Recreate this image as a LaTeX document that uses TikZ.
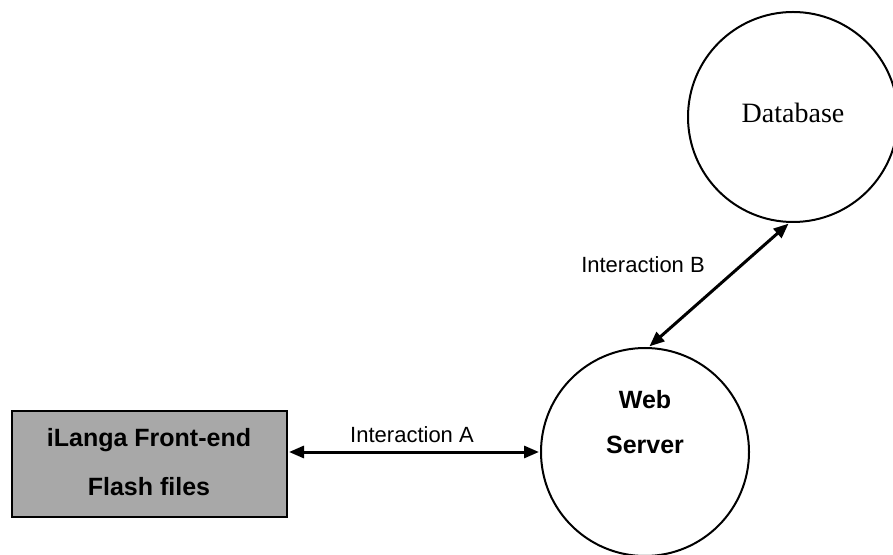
\documentclass[tikz,border=0pt]{standalone}
\usepackage{fontspec}
\setmainfont{Liberation Serif}
\setsansfont{Liberation Sans}
\usetikzlibrary{arrows.meta}
\definecolor{boxgray}{HTML}{A8A8A8}
\tikzset{
  circ/.style={draw=black, line width=2pt, circle, inner sep=0pt},
  conn/.style={line width=3pt, {Triangle[length=15pt,width=12pt]}-{Triangle[length=15pt,width=12pt]}, shorten <=1pt, shorten >=1pt},
  lbl/.style={font=\sffamily\fontsize{22}{26}\selectfont, anchor=base, inner sep=0pt},
  bold/.style={font=\sffamily\bfseries\fontsize{25}{30}\selectfont, anchor=base, inner sep=0pt},
}
\begin{document}
\begin{tikzpicture}[x=1pt,y=1pt]
\useasboundingbox (0,0) rectangle (893,554);
% front-end box
\node[draw=black, line width=2pt, fill=boxgray, minimum width=275pt, minimum height=106pt, inner sep=0pt] (fe) at (149.5,90) {};
\node[bold] (fe1) at (149,108) {iLanga Front-end};
\node[bold] (fe2) at (149,59) {Flash files};
% web server
\node[circ, minimum size=208pt] (ws) at (645,102) {};
\node[bold] (ws1) at (645,145) {Web};
\node[bold] (ws2) at (645,101) {Server};
% database
\node[circ, minimum size=210pt] (db) at (793,437) {};
\node[font=\fontsize{28}{32}\selectfont, anchor=base, inner sep=0pt] (dbt) at (793,431) {Database};
% connectors
\draw[conn] (fe.east |- ws.west) -- (ws.west);
\draw[conn] (ws.88) -- (db.-92);
\node[lbl] (la) at (412,112) {Interaction A};
\node[lbl] (lb) at (643,281) {Interaction B};
\end{tikzpicture}
\end{document}
